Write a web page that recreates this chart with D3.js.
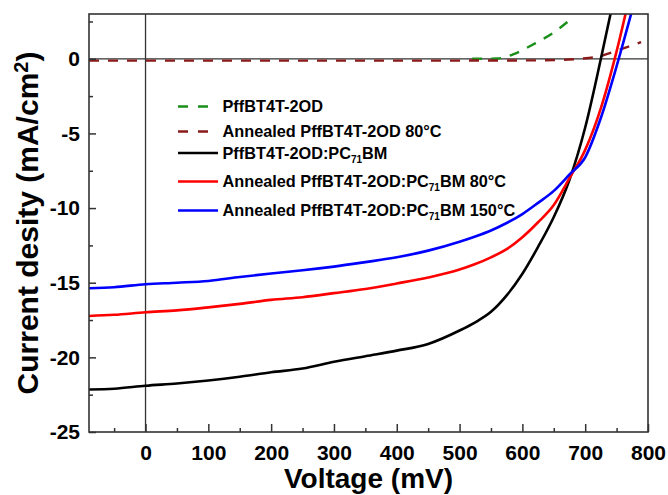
<!DOCTYPE html>
<html>
<head>
<meta charset="utf-8">
<script src="https://cdn.jsdelivr.net/npm/d3@7"></script>
<style>
  html, body { margin: 0; padding: 0; background: #fff; }
  svg { display: block; }
  text { font-family: "Liberation Sans", Arial, Helvetica, sans-serif; font-weight: bold; fill: #000; }
</style>
</head>
<body>
<svg id="chart" width="668" height="495"></svg>
<script>
// J–V curves (voltage in mV, current density in mA/cm²)
const voltage = [-90, -50, 0, 50, 100, 150, 200, 250, 300, 350, 400, 450, 500, 525, 550, 575, 600, 625, 650, 675, 700, 725, 750, 775];
const blendPristine = [-22.15, -22.1, -21.9, -21.75, -21.55, -21.3, -21.0, -20.75, -20.3, -19.92, -19.55, -19.1, -18.2, -17.65, -16.95, -15.85, -14.4, -12.6, -10.6, -8.1, -4.6, 0.0, 4.9, 10.0];
const blendAnneal80 = [-17.23, -17.15, -16.98, -16.85, -16.65, -16.42, -16.15, -15.97, -15.7, -15.42, -15.05, -14.65, -14.12, -13.75, -13.3, -12.75, -11.95, -10.95, -9.8, -8.0, -6.1, -3.3, 0.5, 5.0];
const blendAnneal150 = [-15.37, -15.3, -15.1, -15.0, -14.88, -14.62, -14.38, -14.17, -13.92, -13.62, -13.3, -12.85, -12.25, -11.9, -11.5, -11.0, -10.4, -9.65, -8.85, -7.75, -6.6, -3.95, -0.5, 3.3];

const neatVoltage = [520, 560, 585, 617, 649, 678];
const neatPristine = [0.0, 0.02, 0.29, 0.96, 1.74, 2.68];
const neatAnnealVoltage = [-90, 0, 100, 200, 300, 400, 500, 600, 660, 691, 723, 755, 789];
const neatAnneal80 = [-0.12, -0.12, -0.12, -0.12, -0.12, -0.12, -0.12, -0.11, -0.08, 0.0, 0.17, 0.62, 1.11];

const xTicks = [0, 100, 200, 300, 400, 500, 600, 700, 800];
const xMinorTicks = [-50, 50, 150, 250, 350, 450, 550, 650, 750];
const yTicks = [0, -5, -10, -15, -20, -25];
const yMinorTicks = [2.5, -2.5, -7.5, -12.5, -17.5, -22.5];

const series = [
  { name: "PffBT4T-2OD", x: neatVoltage, y: neatPristine, color: "#1a8f1a", dashed: true },
  { name: "Annealed PffBT4T-2OD 80°C", x: neatAnnealVoltage, y: neatAnneal80, color: "#8b1a1a", dashed: true },
  { name: "PffBT4T-2OD:PC71BM", x: voltage, y: blendPristine, color: "#000000", dashed: false },
  { name: "Annealed PffBT4T-2OD:PC71BM 80°C", x: voltage, y: blendAnneal80, color: "#ff0000", dashed: false },
  { name: "Annealed PffBT4T-2OD:PC71BM 150°C", x: voltage, y: blendAnneal150, color: "#0000ff", dashed: false }
];

const svg = d3.select("#chart");
const plotLeft = 89, plotTop = 14, plotRight = 648, plotBottom = 432;

const x = d3.scaleLinear().domain([-90, 800]).range([plotLeft, plotRight]);
const y = d3.scaleLinear().domain([-25, 3]).range([plotBottom, plotTop]);

svg.append("defs").append("clipPath").attr("id", "plot-clip")
  .append("rect").attr("x", plotLeft).attr("y", plotTop)
  .attr("width", plotRight - plotLeft).attr("height", plotBottom - plotTop);

// zero reference lines
svg.append("line").attr("x1", x(0)).attr("x2", x(0)).attr("y1", plotTop).attr("y2", plotBottom)
  .attr("stroke", "#333").attr("stroke-width", 1.3);
svg.append("line").attr("x1", plotLeft).attr("x2", plotRight).attr("y1", y(0)).attr("y2", y(0))
  .attr("stroke", "#333").attr("stroke-width", 1.3);

// curves
const line = d3.line().curve(d3.curveMonotoneX);
const curves = svg.append("g").attr("clip-path", "url(#plot-clip)");
series.forEach(s => {
  const pts = s.x.map((v, i) => [x(v), y(s.y[i])]);
  curves.append("path")
    .attr("d", line(pts))
    .attr("fill", "none")
    .attr("stroke", s.color)
    .attr("stroke-width", s.dashed ? 2.4 : 2.6)
    .attr("stroke-dasharray", s.dashed ? "10,9" : null)
    .attr("stroke-linejoin", "round");
});

// axes: inward ticks
const fmt = d => String(d);
const xAxis = svg.append("g").attr("transform", `translate(0,${plotBottom})`)
  .call(d3.axisBottom(x).tickValues(xTicks).tickFormat(fmt).tickSize(-8).tickPadding(13));
const xMinor = svg.append("g").attr("transform", `translate(0,${plotBottom})`)
  .call(d3.axisBottom(x).tickValues(xMinorTicks).tickFormat("").tickSize(-4));
const yAxis = svg.append("g").attr("transform", `translate(${plotLeft},0)`)
  .call(d3.axisLeft(y).tickValues(yTicks).tickFormat(fmt).tickSize(-7).tickPadding(9));
const yMinor = svg.append("g").attr("transform", `translate(${plotLeft},0)`)
  .call(d3.axisLeft(y).tickValues(yMinorTicks).tickFormat("").tickSize(-4));

[xAxis, xMinor, yAxis, yMinor].forEach(g => {
  g.select(".domain").remove();
  g.selectAll(".tick line").attr("stroke", "#333").attr("stroke-width", 1.5);
  g.selectAll(".tick text").style("font-size", "21px").attr("fill", "#000");
});

// frame
svg.append("rect").attr("x", plotLeft).attr("y", plotTop)
  .attr("width", plotRight - plotLeft).attr("height", plotBottom - plotTop)
  .attr("fill", "none").attr("stroke", "#333").attr("stroke-width", 1.6);

// axis titles
svg.append("text").attr("x", (plotLeft + plotRight) / 2).attr("y", 488)
  .attr("text-anchor", "middle").style("font-size", "28px").text("Voltage (mV)");

const yTitle = svg.append("text")
  .attr("transform", `translate(38,${(plotTop + plotBottom) / 2}) rotate(-90)`)
  .attr("text-anchor", "middle").style("font-size", "30px");
yTitle.append("tspan").text("Current desity (mA/cm");
yTitle.append("tspan").attr("dy", "-0.5em").style("font-size", "20px").text("2");
yTitle.append("tspan").attr("dy", "0.33em").text(")");

// legend
const legendRows = [106.5, 131.5, 153, 181.5, 210.5];
const legend = svg.append("g");
series.forEach((s, i) => {
  const cy = legendRows[i];
  legend.append("line")
    .attr("x1", 178).attr("x2", s.dashed ? 208 : 218)
    .attr("y1", cy).attr("y2", cy)
    .attr("stroke", s.color)
    .attr("stroke-width", s.dashed ? 2.4 : 2.6)
    .attr("stroke-dasharray", s.dashed ? "10,10" : null);
  const t = legend.append("text").attr("x", 222.5).attr("y", cy + 5.9).style("font-size", "16.3px");
  const parts = s.name.split("PC71");
  if (parts.length > 1) {
    t.append("tspan").text(parts[0] + "PC");
    t.append("tspan").attr("dy", 4).style("font-size", "10px").text("71");
    t.append("tspan").attr("dy", -4).text(parts[1]);
  } else {
    t.text(s.name);
  }
});
</script>
</body>
</html>
